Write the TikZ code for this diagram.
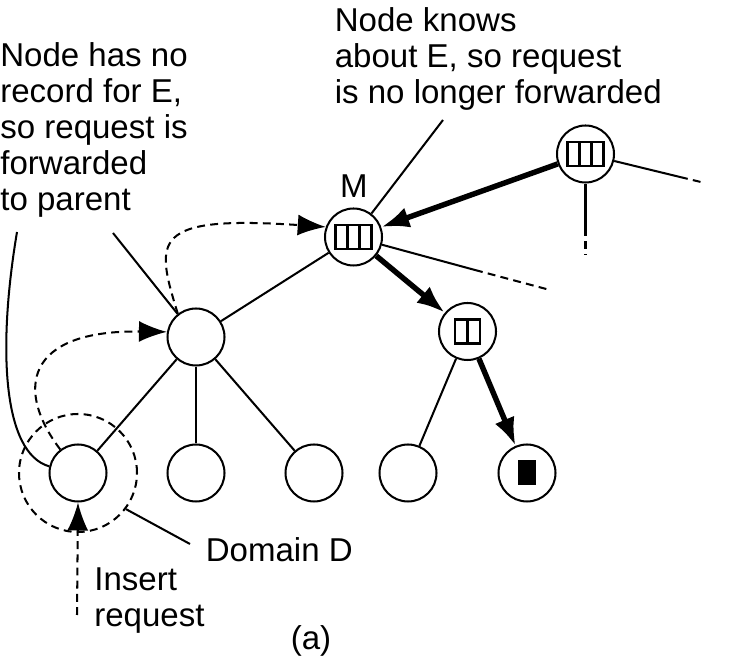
\documentclass[tikz,border=0pt]{standalone}
\usepackage{fontspec}
\setmainfont{Liberation Sans}
\usetikzlibrary{arrows.meta}

\begin{document}
\begin{tikzpicture}[
	font=\fontsize{18.8}{20.5}\selectfont,
	wire/.style={line width=1.15pt},
	site/.style={circle, draw, wire, minimum size=1.14cm, inner sep=0pt},
	fwd/.style={line width=3.1pt, -{Latex[length=0.56cm, width=0.42cm]}},
	hop/.style={wire, dash pattern=on 4.5pt off 3pt, -{Latex[length=0.56cm, width=0.42cm]}},
	stub/.style={wire, dash pattern=on 4.5pt off 3pt},
	lbl/.style={align=left, inner sep=0pt}]
				\useasboundingbox (0, 0) rectangle (14.66, 13.16);
				% Tree nodes:
				\node[site] (M) at (7.07, 8.42){};
				\node[site] (T) at (11.71, 10.08){};
				\node[site] (P) at (3.92, 6.42){};
				\node[site] (Q) at (9.35, 6.53){};
				\node[site] (L1) at (1.56, 3.70){};
				\node[site] (L2) at (3.92, 3.70){};
				\node[site] (L3) at (6.28, 3.70){};
				\node[site] (L4) at (8.16, 3.70){};
				\node[site] (L5) at (10.54, 3.70){};
				\node[circle, draw, stub, minimum size=2.36cm, inner sep=0pt] (dom) at (L1){};
				% Records held by the nodes:
				\foreach \n in {M, T}{
					\draw[wire] ([shift={(-0.36, -0.24)}]\n.center) rectangle ([shift={(0.36, 0.24)}]\n.center);
					\foreach \dx in {-0.12, 0.12}
						\draw[wire] ([shift={(\dx, -0.24)}]\n.center) -- ([shift={(\dx, 0.24)}]\n.center);
				}
				\draw[wire] ([shift={(-0.25, -0.24)}]Q.center) rectangle ([shift={(0.25, 0.24)}]Q.center);
				\draw[wire] ([yshift=-0.24cm]Q.center) -- ([yshift=0.24cm]Q.center);
				\fill ([shift={(-0.18, -0.25)}]L5.center) rectangle ([shift={(0.18, 0.25)}]L5.center);
				% Tree edges:
				\draw[wire] (P) -- (M);
				\draw[wire] (P) -- (L1);
				\draw[wire] (P) -- (L2);
				\draw[wire] (P) -- (L3);
				\draw[wire] (Q) -- (L4);
				\draw[fwd] (T) -- (M);
				\draw[fwd] (M) -- (Q);
				\draw[fwd] (Q) -- (L5);
				% Edges leading out of the picture:
				\coordinate (Mend) at (9.50, 7.76);
				\coordinate (Mfar) at (11.00, 7.36);
				\coordinate (Tend) at (13.60, 9.62);
				\coordinate (Tfar) at (14.10, 9.50);
				\coordinate (Tdown) at (11.71, 8.60);
				\coordinate (Tlow) at (11.71, 8.06);
				\draw[wire] (M) -- (Mend);
				\draw[stub] (Mend) -- (Mfar);
				\draw[wire] (T) -- (Tend);
				\draw[stub] (Tend) -- (Tfar);
				\draw[wire] (T) -- (Tdown);
				\draw[stub] (Tdown) -- (Tlow);
				% Path of the insert request:
				\coordinate (ins) at (1.54, 0.86);
				\draw[hop] (ins) -- (L1.south);
				\draw[hop] (L1.127) .. controls (0.30, 5.36) and (0.50, 6.56) .. (P.170);
				\draw[hop] (P.128) .. controls (3.10, 8.36) and (3.00, 8.86) .. (M.160);
				% Labels:
				\node[lbl, anchor=north west] (norec) at (0.00, 12.32)
					{Node has no\\record for E,\\so request is\\forwarded\\to parent};
				\node[lbl, anchor=north west] (knows) at (6.69, 13.02)
					{Node knows\\about E, so request\\is no longer forwarded};
				\node[anchor=base, inner sep=0pt] (mlbl) at (7.08, 9.20){M};
				\node[anchor=base west, inner sep=0pt] (domlbl) at (4.11, 1.92){Domain D};
				\node[lbl, anchor=north west] (insert) at (1.88, 1.82){Insert\\request};
				\node[anchor=base, inner sep=0pt] (cap) at (6.22, 0.16){(a)};
				% Leader lines:
				\coordinate (knowsend) at (8.86, 10.76);
				\coordinate (norecA) at (0.34, 8.52);
				\coordinate (norecB) at (2.26, 8.50);
				\coordinate (domend) at (3.80, 2.28);
				\draw[wire] (knowsend) -- (M);
				\draw[wire] (norecB) -- (P);
				\draw[wire] (norecA) .. controls (-0.05, 6.20) and (0.05, 4.10) .. (L1.167);
				\draw[wire] (dom.-37) -- (domend);
			\end{tikzpicture}
\end{document}
